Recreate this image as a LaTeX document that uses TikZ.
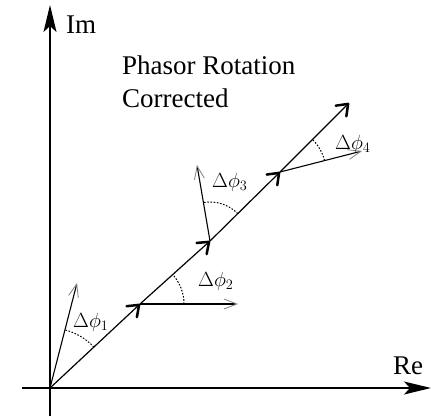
\documentclass[tikz,border=0pt]{standalone}
\usepackage{fix-cm}
\usepackage{fontspec}
\setmainfont{Liberation Serif}
\usetikzlibrary{arrows.meta}
\begin{document}
\begin{tikzpicture}[x=1pt,y=-1pt,
  axis/.style={line width=1.5pt,-{Stealth[length=27pt,width=13pt,inset=6pt]}},
  mainvec/.style={line width=1.2pt,-{Straight Barb[length=10pt,width=15pt,line width=2.5pt,round]}},
  rotvec/.style={line width=1.1pt,-{Straight Barb[length=13pt,width=10pt,line width=0.8pt,color=gray]}},
  anglearc/.style={line width=1pt,dash pattern=on 1.6pt off 1.6pt},
  bigtext/.style={anchor=base west,inner sep=0pt,font=\fontsize{27}{33}\selectfont},
  lbl/.style={anchor=base west,inner sep=0pt,font=\fontsize{20.5}{24}\selectfont}]
\useasboundingbox (0,0) rectangle (431,416);
% axes
\coordinate (ybot) at (50,416);
\coordinate (ytop) at (50,5);
\coordinate (xleft) at (22,388);
\coordinate (xright) at (431,388);
\draw[axis] (ybot) -- (ytop);
\draw[axis] (xleft) -- (xright);
% phasor chain
\coordinate (O) at (50,388);
\coordinate (A) at (140,304);
\coordinate (B) at (210,241);
\coordinate (C) at (280,172);
\coordinate (D) at (349,103);
% rotated phasors
\coordinate (R1) at (77,283);
\coordinate (R2) at (238,304);
\coordinate (R3) at (197,165);
\coordinate (R4) at (362,151);
\draw[rotvec] (O) -- (R1);
\draw[rotvec] (A) -- (R2);
\draw[rotvec] (B) -- (R3);
\draw[rotvec] (C) -- (R4);
\draw[mainvec] (O) -- (A);
\draw[mainvec] (A) -- (B);
\draw[mainvec] (B) -- (C);
\draw[mainvec] (C) -- (D);
% angle arcs
\draw[anglearc] (O) ++(-43:60) arc[start angle=-43,end angle=-75.6,radius=60];
\draw[anglearc] (A) ++(0:44) arc[start angle=0,end angle=-42,radius=44];
\draw[anglearc] (B) ++(-44.6:39) arc[start angle=-44.6,end angle=-99.7,radius=39];
\draw[anglearc] (C) ++(-14.4:46) arc[start angle=-14.4,end angle=-45,radius=46];
% labels
\node[lbl] (l1) at (73,327) {$\Delta\phi_1$};
\node[lbl] (l2) at (198,286) {$\Delta\phi_2$};
\node[lbl] (l3) at (212,187) {$\Delta\phi_3$};
\node[lbl] (l4) at (335,149) {$\Delta\phi_4$};
\node[bigtext] (im) at (66,33) {Im};
\node[bigtext] (re) at (393,374) {Re};
\node[bigtext] (t1) at (122,74) {Phasor Rotation};
\node[bigtext] (t2) at (122,107) {Corrected};
\end{tikzpicture}
\end{document}
